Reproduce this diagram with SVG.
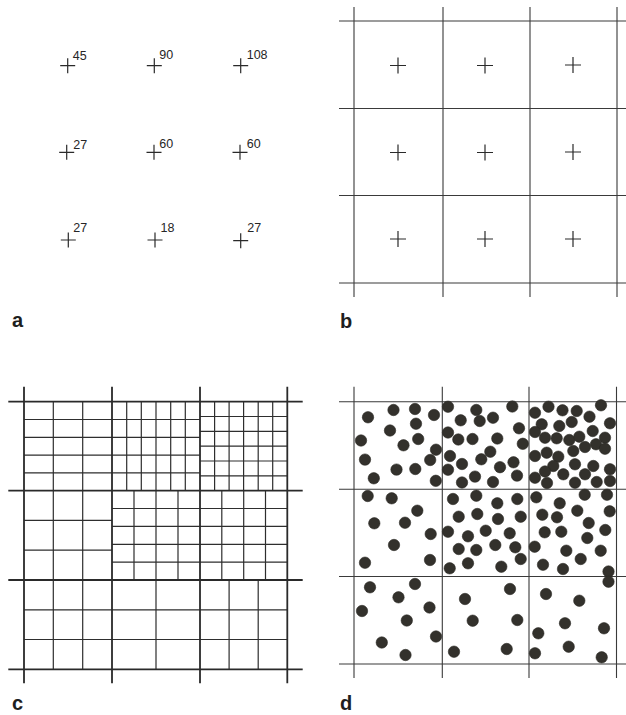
<svg xmlns="http://www.w3.org/2000/svg" width="626" height="715" viewBox="0 0 626 715">
<style>
.bg{fill:#ffffff}
.cr{stroke:#2a2a2a;stroke-width:1.2;fill:none}
.gl{stroke:#3a3a3a;stroke-width:1.1;fill:none}
.mj{stroke:#2a2a2a;stroke-width:1.8;fill:none}
.sb{stroke:#2e2e2e;stroke-width:1.2;fill:none}
.num{font-family:"Liberation Sans",Arial,sans-serif;font-size:12.5px;fill:#262626}
.lab{font-family:"Liberation Sans",Arial,sans-serif;font-size:20px;font-weight:bold;fill:#1e1e1e}
.dt circle{fill:#33312c;stroke:#2a2824;stroke-width:0.6}
</style>
<rect class="bg" x="0" y="0" width="626" height="715"/>

<g id="panel-a">
<path class="cr" d="M60.2 65.7h15M67.7 58.2v15 M146.8 65.7h15M154.3 58.2v15 M233.2 65.7h15M240.7 58.2v15 M59.2 152.3h15M66.7 144.8v15 M146.5 152.3h15M154 144.8v15 M232.5 152.3h15M240 144.8v15 M60.8 240h15M68.3 232.5v15 M147.5 240h15M155 232.5v15 M233.2 240.7h15M240.7 233.2v15"/>
<text class="num" x="72.7" y="60">45</text>
<text class="num" x="159.3" y="59.3">90</text>
<text class="num" x="246.7" y="59.3">108</text>
<text class="num" x="73.3" y="149">27</text>
<text class="num" x="159.3" y="148.3">60</text>
<text class="num" x="246.7" y="148.3">60</text>
<text class="num" x="73.3" y="232.3">27</text>
<text class="num" x="160.5" y="232.3">18</text>
<text class="num" x="247.3" y="231.7">27</text>
<text class="lab" x="12" y="327">a</text>
</g>

<g id="panel-b">
<path class="gl" d="M354 7V297M443 7V297M530 7V297M617 7V297M339 21H626M339 108.5H626M339 195.5H626M339 283H626"/>
<path class="cr" d="M390 65.5h16M398 57.5v16 M477 65.5h16M485 57.5v16 M565 65h16M573 57v16 M390 152.5h16M398 144.5v16 M477 152.5h16M485 144.5v16 M565 152h16M573 144v16 M390 239h16M398 231v16 M477 239h16M485 231v16 M565 239h16M573 231v16"/>
<text class="lab" x="340" y="328">b</text>
</g>

<g id="panel-c">
<path class="sb" d="M53.3 401.7V669.3M82.7 401.7V669.3
M126.7 401.7V490.7M141.3 401.7V490.7M156 401.7V490.7M170.7 401.7V490.7M185.3 401.7V490.7
M214.6 401.7V490.7M229.1 401.7V490.7M243.6 401.7V490.7M258.2 401.7V490.7M272.7 401.7V490.7
M134 490.7V580M156 490.7V580M178 490.7V580
M221.8 490.7V580M243.7 490.7V580M265.5 490.7V580
M156 580V669.3M229.1 580V669.3M258.2 580V669.3
M24 419.5H200M24 437.3H200M24 455.1H200M24 472.9H200
M200 416.5H287.3M200 431.3H287.3M200 446.2H287.3M200 461H287.3M200 475.8H287.3
M24 520.4H112M24 550.2H112
M112 508.5H287.3M112 526.4H287.3M112 544.3H287.3M112 562.1H287.3
M24 609.8H287.3M24 639.5H287.3"/>
<path class="mj" d="M24 386.7V683.3M112 386.7V683.3M200 386.7V683.3M287.3 386.7V683.3M8.3 401.7H302.7M8.3 490.7H302.7M8.3 580H302.7M8.3 669.3H302.7"/>
<text class="lab" x="12" y="710">c</text>
</g>

<g id="panel-d">
<path class="gl" d="M354 386.7V678M442.3 386.7V678M529 386.7V678M616.5 386.7V678M339 401.7H626M339 489.3H626M339 576.5H626M339 664H626"/>
<g class="dt">
<circle cx="368" cy="417.3" r="5.7"/><circle cx="393.5" cy="410" r="5.7"/><circle cx="415" cy="409" r="5.7"/><circle cx="416" cy="423.7" r="5.7"/><circle cx="434" cy="415" r="5.7"/><circle cx="390" cy="430.5" r="5.7"/><circle cx="361" cy="440.5" r="5.7"/><circle cx="403.5" cy="445.3" r="5.7"/><circle cx="418.2" cy="439" r="5.7"/><circle cx="436" cy="449.7" r="5.7"/><circle cx="365" cy="459.6" r="5.7"/><circle cx="430.2" cy="460" r="5.7"/><circle cx="396.5" cy="469.6" r="5.7"/><circle cx="415.3" cy="469" r="5.7"/><circle cx="373.8" cy="478.3" r="5.7"/><circle cx="435.8" cy="480.8" r="5.7"/>
<circle cx="448" cy="406.7" r="5.7"/><circle cx="476.3" cy="410" r="5.7"/><circle cx="479.7" cy="421" r="5.7"/><circle cx="460.7" cy="420.3" r="5.7"/><circle cx="493" cy="417.7" r="5.7"/><circle cx="512.3" cy="406.5" r="5.7"/><circle cx="519" cy="428.3" r="5.7"/><circle cx="448" cy="432.5" r="5.7"/><circle cx="458.3" cy="439.5" r="5.7"/><circle cx="472.5" cy="439" r="5.7"/><circle cx="497.3" cy="438.5" r="5.7"/><circle cx="522.8" cy="443.8" r="5.7"/><circle cx="490.3" cy="451.7" r="5.7"/><circle cx="481.3" cy="459.3" r="5.7"/><circle cx="450" cy="456" r="5.7"/><circle cx="462" cy="464" r="5.7"/><circle cx="448" cy="469.7" r="5.7"/><circle cx="500" cy="467.2" r="5.7"/><circle cx="513.5" cy="462.3" r="5.7"/><circle cx="475" cy="476.6" r="5.7"/><circle cx="517" cy="475.6" r="5.7"/><circle cx="462" cy="482.5" r="5.7"/><circle cx="493" cy="482" r="5.7"/>
<circle cx="535" cy="412.7" r="5.7"/><circle cx="548.5" cy="406.7" r="5.7"/><circle cx="562.5" cy="410.3" r="5.7"/><circle cx="576.7" cy="411" r="5.7"/><circle cx="601" cy="405.3" r="5.7"/><circle cx="589.5" cy="416.7" r="5.7"/><circle cx="610" cy="423.3" r="5.7"/><circle cx="541.7" cy="424.3" r="5.7"/><circle cx="559.3" cy="426" r="5.7"/><circle cx="571.7" cy="422" r="5.7"/><circle cx="535" cy="432" r="5.7"/><circle cx="545" cy="437.7" r="5.7"/><circle cx="556.7" cy="438.3" r="5.7"/><circle cx="569.3" cy="440" r="5.7"/><circle cx="579.3" cy="436.7" r="5.7"/><circle cx="592.7" cy="431" r="5.7"/><circle cx="605" cy="437.7" r="5.7"/><circle cx="585" cy="447" r="5.7"/><circle cx="596" cy="444.3" r="5.7"/><circle cx="605" cy="448.7" r="5.7"/><circle cx="535" cy="456" r="5.7"/><circle cx="546.7" cy="452.7" r="5.7"/><circle cx="558.3" cy="456.7" r="5.7"/><circle cx="573.3" cy="451" r="5.7"/><circle cx="575" cy="464.3" r="5.7"/><circle cx="553.3" cy="466" r="5.7"/><circle cx="593.3" cy="466" r="5.7"/><circle cx="610" cy="469.3" r="5.7"/><circle cx="535" cy="477.7" r="5.7"/><circle cx="545" cy="471.5" r="5.7"/><circle cx="563.3" cy="474.3" r="5.7"/><circle cx="585" cy="474.3" r="5.7"/><circle cx="596.7" cy="482" r="5.7"/><circle cx="610" cy="481" r="5.7"/><circle cx="575" cy="482.7" r="5.7"/><circle cx="547" cy="483" r="5.7"/>
<circle cx="367.7" cy="496" r="5.7"/><circle cx="391.7" cy="498.3" r="5.7"/><circle cx="417.3" cy="510.7" r="5.7"/><circle cx="374.3" cy="523.3" r="5.7"/><circle cx="405" cy="522.7" r="5.7"/><circle cx="430.7" cy="534" r="5.7"/><circle cx="394" cy="545" r="5.7"/><circle cx="430" cy="560" r="5.7"/><circle cx="365" cy="562.7" r="5.7"/>
<circle cx="453" cy="499" r="5.7"/><circle cx="476.3" cy="495.7" r="5.7"/><circle cx="497.3" cy="503.3" r="5.7"/><circle cx="517.3" cy="499" r="5.7"/><circle cx="458.7" cy="516.7" r="5.7"/><circle cx="477.3" cy="514" r="5.7"/><circle cx="498" cy="519" r="5.7"/><circle cx="520.7" cy="516.7" r="5.7"/><circle cx="448" cy="531.7" r="5.7"/><circle cx="468" cy="536.3" r="5.7"/><circle cx="485.7" cy="530.7" r="5.7"/><circle cx="509.7" cy="533.3" r="5.7"/><circle cx="458.7" cy="549" r="5.7"/><circle cx="476.3" cy="550" r="5.7"/><circle cx="495.3" cy="545" r="5.7"/><circle cx="515.3" cy="547.3" r="5.7"/><circle cx="520.7" cy="559" r="5.7"/><circle cx="468" cy="563.3" r="5.7"/><circle cx="449.7" cy="568.3" r="5.7"/><circle cx="501.3" cy="566.7" r="5.7"/>
<circle cx="536.3" cy="497.3" r="5.7"/><circle cx="559.7" cy="503.3" r="5.7"/><circle cx="584.7" cy="494.7" r="5.7"/><circle cx="607" cy="494.7" r="5.7"/><circle cx="609.7" cy="511.3" r="5.7"/><circle cx="542.3" cy="514.7" r="5.7"/><circle cx="557" cy="517.3" r="5.7"/><circle cx="577.3" cy="510.7" r="5.7"/><circle cx="588.7" cy="523" r="5.7"/><circle cx="605.3" cy="530" r="5.7"/><circle cx="544.7" cy="532.3" r="5.7"/><circle cx="561.3" cy="531.7" r="5.7"/><circle cx="587.3" cy="538" r="5.7"/><circle cx="534.7" cy="546.7" r="5.7"/><circle cx="566.3" cy="550.7" r="5.7"/><circle cx="600.7" cy="550.7" r="5.7"/><circle cx="580.7" cy="559" r="5.7"/><circle cx="543" cy="564.7" r="5.7"/><circle cx="563" cy="569" r="5.7"/><circle cx="608.5" cy="571.5" r="5.7"/>
<circle cx="370" cy="587.3" r="5.7"/><circle cx="415" cy="584" r="5.7"/><circle cx="398.5" cy="597.3" r="5.7"/><circle cx="362" cy="611" r="5.7"/><circle cx="429.5" cy="607.5" r="5.7"/><circle cx="406.8" cy="620.5" r="5.7"/><circle cx="436" cy="636.5" r="5.7"/><circle cx="381.8" cy="642.5" r="5.7"/><circle cx="405.5" cy="655" r="5.7"/>
<circle cx="465" cy="599" r="5.7"/><circle cx="510" cy="589" r="5.7"/><circle cx="472.7" cy="620.7" r="5.7"/><circle cx="517.3" cy="620" r="5.7"/><circle cx="454" cy="651.7" r="5.7"/><circle cx="506.7" cy="649" r="5.7"/>
<circle cx="546" cy="594" r="5.7"/><circle cx="579.3" cy="600.7" r="5.7"/><circle cx="565" cy="623.3" r="5.7"/><circle cx="538.3" cy="633.3" r="5.7"/><circle cx="604" cy="628.3" r="5.7"/><circle cx="535" cy="653.3" r="5.7"/><circle cx="568.7" cy="646.7" r="5.7"/><circle cx="601.7" cy="657.3" r="5.7"/><circle cx="608.5" cy="581.7" r="5.7"/>
</g>
<text class="lab" x="340" y="710">d</text>
</g>
</svg>
